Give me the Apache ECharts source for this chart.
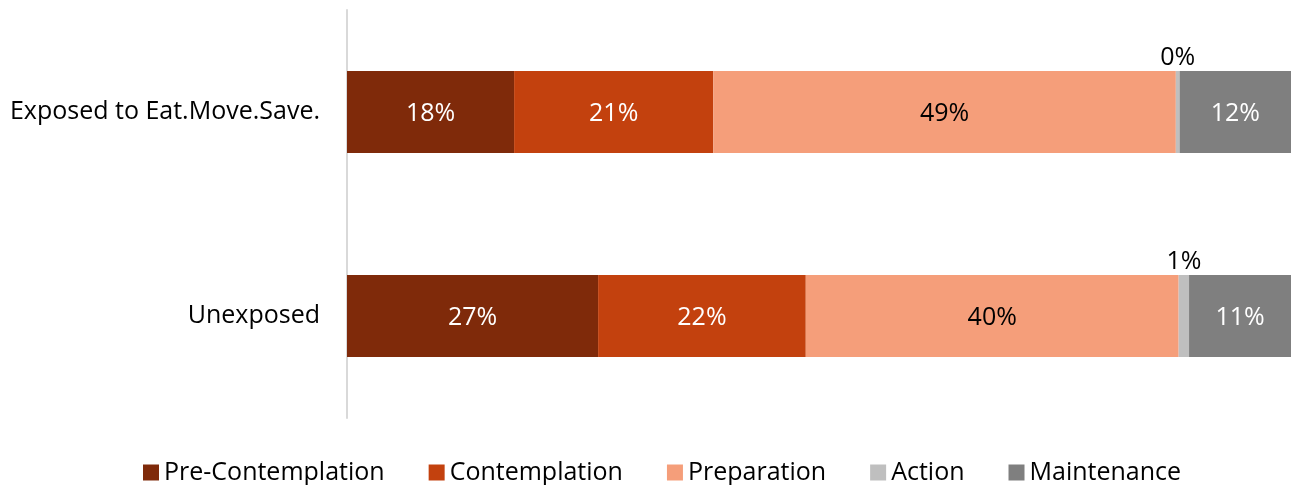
<!DOCTYPE html>
<html>
<head>
<meta charset="utf-8">
<script src="https://cdn.jsdelivr.net/npm/echarts@6/dist/echarts.min.js"></script>
<style>
  html, body { margin: 0; padding: 0; background: #fff; }
  #chart { width: 1291px; height: 485px; }
</style>
</head>
<body>
<div id="chart"></div>
<script>
// Stages of change by exposure group (share of respondents, %)
const categories = ['Exposed to Eat.Move.Save.', 'Unexposed'];
const stageNames = ['Pre-Contemplation', 'Contemplation', 'Preparation', 'Action', 'Maintenance'];
const preContemplation = [17.7, 26.6];
const contemplation = [21.1, 22.0];
const preparation = [49.0, 39.5];
const action = [0.4, 1.1];
const maintenance = [11.8, 10.8];
const stageColors = ['#7F2A0A', '#C3410E', '#F59E7A', '#BFBFBF', '#7F7F7F'];
const labelColors = ['#fff', '#fff', '#000', '#000', '#fff'];

const seriesValues = [preContemplation, contemplation, preparation, action, maintenance];
const FONT = '"Open Sans", "Noto Sans", sans-serif';
const FS = 25;

const chart = echarts.init(document.getElementById('chart'));
chart.setOption({
  animation: false,
  textStyle: { fontFamily: FONT },
  grid: { left: 347, right: 0, top: 10, bottom: 67 },
  legend: {
    top: 455,
    left: 138,
    itemWidth: 16,
    itemHeight: 16,
    itemGap: 44,
    icon: 'rect',
    textStyle: { fontSize: FS, color: '#000', fontFamily: FONT },
    data: stageNames
  },
  xAxis: {
    type: 'value',
    min: 0,
    max: 100,
    show: false
  },
  yAxis: {
    type: 'category',
    inverse: true,
    data: categories,
    axisLine: { show: true, lineStyle: { color: '#D9D9D9', width: 2 } },
    axisTick: { show: false },
    axisLabel: { fontSize: FS, color: '#000', margin: 27, padding: [6, 0, 0, 0], fontFamily: FONT }
  },
  series: seriesValues.map((vals, i) => ({
    name: stageNames[i],
    type: 'bar',
    stack: 'total',
    barWidth: 82,
    data: vals,
    itemStyle: { color: stageColors[i] },
    label: {
      show: true,
      position: i === 3 ? 'top' : 'inside',
      distance: 1,
      offset: i === 3 ? [0, 0] : [0, 2],
      color: labelColors[i],
      fontSize: FS,
      fontFamily: FONT,
      formatter: p => Math.round(p.value) + '%'
    }
  }))
});
</script>
</body>
</html>
